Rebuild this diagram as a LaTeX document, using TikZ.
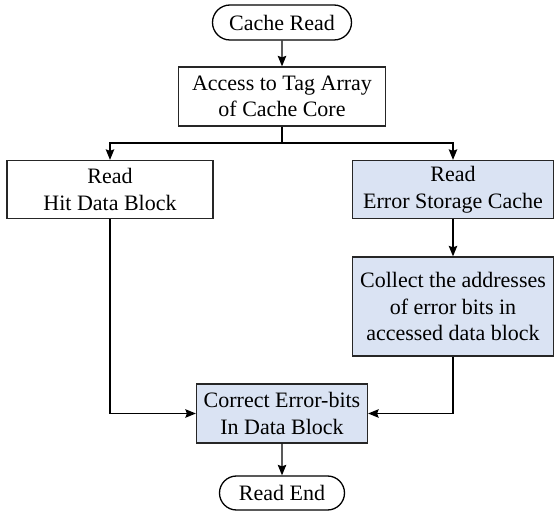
\documentclass[tikz,border=0pt]{standalone}
\usepackage{fontspec}
\setmainfont{Liberation Serif}
\usepackage{tikz}
\usetikzlibrary{positioning, arrows.meta, shapes.misc, calc}
\definecolor{boxblue}{RGB}{218,227,243}
\tikzstyle{arrow} = [line width=1.3pt,-{Stealth[length=10.5pt,width=8.5pt,inset=1.5pt]}]
\tikzstyle{line} = [line width=1.3pt]
\tikzstyle{process} = [rectangle, minimum width=201pt, minimum height=58pt, inner sep=0pt, align=center, draw=black!85, line width=1.3pt, fill=white, font=\fontsize{22}{26.5}\selectfont]
\tikzstyle{errproc} = [process, fill=boxblue]
\tikzstyle{terminal} = [rounded rectangle, minimum width=139pt, minimum height=35pt, inner sep=0pt, draw=black, line width=1.3pt, font=\fontsize{22}{26.5}\selectfont]

\begin{document}
\begin{tikzpicture}[x=1pt, y=1pt]
        \useasboundingbox (0,0) rectangle (555,-513);

        \node (start) [terminal] at (282,-22.5) {Cache Read};
        \node (access) [process, below of=start, node distance=74pt, minimum width=207pt, minimum height=59pt]{Access to Tag Array\\of Cache Core};
        \coordinate [below of=access, node distance=46.5pt] (split);
        \node (hit) [process, below of=access, node distance=93pt, xshift=-172pt, minimum width=206pt]{Read\\Hit Data Block};
        \node (errstore) [errproc, below of=access, node distance=93pt, xshift=171pt]{Read\\Error Storage Cache};
        \node (collect) [errproc, below of=errstore, node distance=117pt, minimum height=99pt]{Collect the addresses\\of error bits in\\accessed data block};
        \node (correct) [errproc, below of=access, node distance=317pt, minimum width=171pt, minimum height=59pt]{Correct Error-bits\\In Data Block};
        \node (readend) [terminal, below of=correct, node distance=79.5pt, minimum width=125pt, minimum height=34pt]{Read End};

        \draw [arrow] (start) -- (access);
        \draw [line] (access) -- (split);
        \draw [arrow] (split) -| (hit);
        \draw [arrow] (split) -| (errstore);
        \draw [arrow] (errstore) -- (collect);
        \draw [arrow] (hit) |- (correct);
        \draw [arrow] (collect) |- (correct);
        \draw [arrow] (correct) -- (readend);

        \end{tikzpicture}
\end{document}
